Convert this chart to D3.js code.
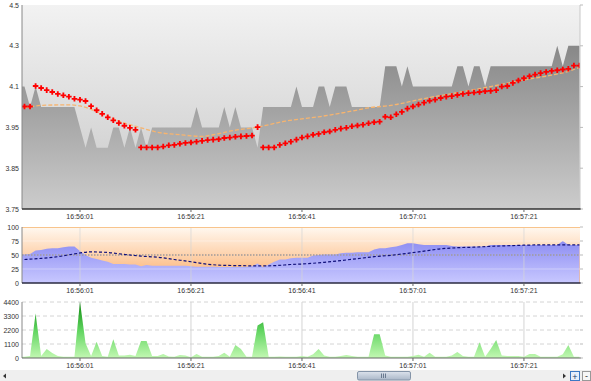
<!DOCTYPE html>
<html>
<head>
<meta charset="utf-8">
<script src="https://cdn.jsdelivr.net/npm/d3@7"></script>
<style>
  html, body { margin: 0; padding: 0; background: #fff; }
  svg { display: block; font-family: "Liberation Sans", Arial, sans-serif; }
</style>
</head>
<body>
<div id="chart"></div>
<script>
// Tick price chart with oscillator and volume panes

// time labels / axis values
const timeTicks = ['16:56:01', '16:56:21', '16:56:41', '16:57:01', '16:57:21'];
const priceTicks = [3.75, 3.85, 3.95, 4.1, 4.3, 4.5];
const oscTicks = [0, 25, 50, 75, 100];
const volTicks = [0, 1100, 2200, 3300, 4400];

// series start times (one point per second)
const areaStart = '16:55:50';   // gray price area, oscillator, volume
const dotStart = '16:55:51';    // red price markers

// gray price area (from 16:55:50)
const priceArea = [4.1,
    4.1, 4.025, 4.1, 4.025, 4.025, 4.025, 4.025, 4.025, 4.025, 4.025,
    3.95, 3.9, 3.95, 3.9, 3.9, 3.9, 3.95, 3.95, 3.9, 3.95,
    3.9, 3.95, 3.9, 3.95, 3.95, 3.95, 3.95, 3.95, 3.95, 3.95,
    3.95, 4.025, 3.95, 3.95, 3.95, 3.95, 4.025, 3.95, 4.025, 3.95,
    3.95, 3.95, 3.9, 4.025, 4.025, 4.025, 4.025, 4.025, 4.025, 4.1,
    4.025, 4.025, 4.025, 4.1, 4.1, 4.025, 4.1, 4.1, 4.1, 4.025,
    4.025, 4.025, 4.025, 4.025, 4.025, 4.2, 4.2, 4.2, 4.1, 4.2,
    4.1, 4.1, 4.1, 4.1, 4.1, 4.1, 4.1, 4.1, 4.2, 4.2,
    4.1, 4.2, 4.2, 4.1, 4.2, 4.2, 4.2, 4.2, 4.2, 4.2,
    4.2, 4.2, 4.2, 4.2, 4.2, 4.2, 4.3, 4.2, 4.3, 4.3,
    4.3];

// red markers (from 16:55:51)
const priceDots = [
    4.027, 4.027, 4.103, 4.095, 4.087, 4.080, 4.073, 4.068, 4.063, 4.055,
    4.052, 4.047, 4.028, 4.013, 4.000, 3.987, 3.976, 3.966, 3.956, 3.949,
    3.944, 3.901, 3.901, 3.901, 3.901, 3.903, 3.906, 3.907, 3.910, 3.912,
    3.913, 3.915, 3.917, 3.919, 3.920, 3.921, 3.924, 3.925, 3.927, 3.928,
    3.929, 3.930, 3.951, 3.901, 3.901, 3.901, 3.907, 3.911, 3.915, 3.920,
    3.925, 3.928, 3.932, 3.934, 3.938, 3.940, 3.944, 3.947, 3.949, 3.954,
    3.957, 3.960, 3.965, 3.969, 3.971, 3.989, 3.987, 3.998, 4.007, 4.019,
    4.027, 4.034, 4.041, 4.048, 4.052, 4.058, 4.063, 4.065, 4.069, 4.073,
    4.076, 4.078, 4.080, 4.083, 4.084, 4.087, 4.100, 4.103, 4.118, 4.130,
    4.141, 4.151, 4.159, 4.166, 4.172, 4.177, 4.180, 4.184, 4.187, 4.203,
    4.203];

// orange average line (seconds after 16:55:51)
const avgSecs = [0, 3, 8, 10, 14, 17, 21, 24, 28, 32, 34, 38, 42, 47, 53, 59, 62, 66, 72, 78, 84, 90, 95, 98, 100];
const avgValues = [4.021, 4.031, 4.033, 4.029, 3.999, 3.973, 3.949, 3.938, 3.932, 3.928, 3.932, 3.943, 3.951,
    3.973, 3.989, 4.010, 4.022, 4.031, 4.056, 4.078, 4.100, 4.133, 4.156, 4.175, 4.194];

// oscillator area (from 16:55:50)
const oscArea = [51,
    51, 52, 58, 59, 61, 62, 62, 64, 65, 65,
    57, 50, 45, 43, 40, 38, 34, 34, 34, 33,
    33, 30, 32, 31, 31, 31, 31, 31, 31, 31,
    30, 29, 29, 29, 29, 28.6, 28.6, 28.6, 28.6, 28.6,
    29, 30, 35, 28, 33, 38, 42, 42, 44, 45,
    45, 45, 49, 50, 51, 51, 51, 53, 54, 54,
    55, 55, 55, 60, 62, 62, 64, 65, 68, 71,
    71, 69, 68, 68, 68, 68, 68, 66, 65, 65,
    65, 65, 65, 65, 68, 68, 68, 68, 68, 68,
    68, 68, 68, 68, 68, 68, 68, 75, 68, 68,
    68];

// oscillator average (seconds after 16:55:51)
const oscAvgSecs = [0, 3, 6, 9, 12, 15, 18, 21, 24, 27, 30, 33, 36, 39, 42, 45, 48, 51, 54, 57,
    60, 63, 66, 69, 72, 75, 78, 81, 84, 87, 90, 93, 96, 100];
const oscAvgValues = [42, 44, 47, 52, 55.5, 54.5, 51, 48, 46, 42, 38, 33.5, 31.5, 31, 30.5, 31, 33, 34.5, 37, 40,
    43.5, 47, 49.5, 53, 57, 61, 63, 64, 65.5, 66.5, 67.5, 68, 68, 68];
const oscLevel = 50;

// volume (from 16:55:50)
const volume = [100,
    100, 150, 3500, 150, 700, 400, 150, 100, 100, 100,
    4420, 1150, 150, 1280, 150, 100, 1470, 200, 200, 250,
    150, 1340, 1340, 150, 150, 310, 120, 100, 240, 200,
    50, 310, 100, 100, 100, 150, 420, 100, 1020, 700,
    100, 100, 2550, 2800, 100, 100, 120, 100, 100, 100,
    150, 100, 300, 700, 200, 100, 100, 150, 240, 150,
    100, 100, 100, 1860, 1860, 200, 100, 100, 100, 100,
    150, 250, 100, 420, 100, 100, 100, 200, 470, 150,
    100, 100, 1230, 100, 700, 1410, 200, 150, 150, 150,
    100, 310, 310, 100, 100, 100, 100, 300, 1020, 100,
    100];

const W = 591, H = 381;
const left = 22, right = 580;
const main = { top: 5, bottom: 209 };
const osc = { top: 227, bottom: 283 };
const vol = { top: 302, bottom: 358 };

const parseTime = d3.timeParse('%H:%M:%S');
const formatTime = d3.timeFormat('%H:%M:%S');
const at = (start, s) => new Date(parseTime(start).getTime() + s * 1000);

const svg = d3.select('#chart').append('svg')
    .attr('width', W)
    .attr('height', H);

// shared time scale
const x = d3.scaleTime()
    .domain([at(areaStart, 0.55), at(areaStart, 101.1)])
    .range([left, right]);
const tickDates = timeTicks.map(parseTime);

const yPrice = d3.scaleLinear()
    .domain(priceTicks)
    .range(priceTicks.map((d, i) => main.bottom - i * (main.bottom - main.top) / (priceTicks.length - 1)));
const yOsc = d3.scaleLinear().domain([0, 100]).range([osc.bottom, osc.top]);
const yVol = d3.scaleLinear().domain([0, 4400]).range([vol.bottom, vol.top]);

// gradients
const defs = svg.append('defs');
function vGrad(id, y1, y2, stops) {
    const g = defs.append('linearGradient').attr('id', id)
        .attr('gradientUnits', 'userSpaceOnUse')
        .attr('x1', 0).attr('x2', 0).attr('y1', y1).attr('y2', y2);
    stops.forEach(s => g.append('stop').attr('offset', s[0]).attr('stop-color', s[1]));
}
vGrad('mainBg', main.top, main.bottom, [[0, '#f2f2f2'], [1, '#c8c8c8']]);
vGrad('priceFill', main.top, main.bottom, [[0, '#777777'], [1, '#cccccc']]);
vGrad('oscBg', osc.top, osc.bottom, [[0, '#fff8f0'], [1, '#fcac68']]);
vGrad('oscFill', osc.top, osc.bottom, [[0, '#7a7aee'], [1, '#c8c8ff']]);
vGrad('volFill', vol.top, vol.bottom, [[0, '#0e880e'], [0.5, '#5fd45f'], [1, '#c2f8b2']]);
vGrad('thumb', 371, 380, [[0, '#dfe5ee'], [1, '#aab7c8']]);

function clip(id, p) {
    defs.append('clipPath').attr('id', id)
        .append('rect').attr('x', left).attr('y', p.top)
        .attr('width', right - left).attr('height', p.bottom - p.top);
}
clip('clipMain', main);
clip('clipOsc', osc);
clip('clipVol', vol);

const txt = (g, xx, yy, s, anchor) => g.append('text')
    .attr('x', xx).attr('y', yy)
    .attr('text-anchor', anchor)
    .style('font-size', '7px')
    .style('fill', '#333')
    .text(s);

function timeAxis(p) {
    const g = svg.append('g');
    tickDates.forEach(d => {
        g.append('line').attr('x1', x(d)).attr('x2', x(d))
            .attr('y1', p.bottom).attr('y2', p.bottom + 3)
            .style('stroke', '#666');
        txt(g, x(d), p.bottom + 9.5, formatTime(d), 'middle');
    });
}

function yLabels(scale, ticks, fmt) {
    const g = svg.append('g');
    ticks.forEach(t => {
        txt(g, 19, scale(t) + 2.5, fmt(t), 'end');
        g.append('line').attr('x1', right).attr('x2', right + 3)
            .attr('y1', scale(t)).attr('y2', scale(t))
            .style('stroke', '#bbb');
    });
}

// ---------- price pane ----------
svg.append('rect')
    .attr('x', left).attr('y', main.top)
    .attr('width', right - left).attr('height', main.bottom - main.top)
    .style('fill', 'url(#mainBg)');

const mainG = svg.append('g').attr('clip-path', 'url(#clipMain)');

mainG.append('path')
    .datum(priceArea.map((v, i) => ({ t: at(areaStart, i), v })))
    .attr('d', d3.area().x(d => x(d.t)).y0(main.bottom).y1(d => yPrice(d.v)))
    .style('fill', 'url(#priceFill)');

mainG.append('path')
    .datum(avgSecs.map((s, i) => ({ t: at(dotStart, s), v: avgValues[i] })))
    .attr('d', d3.line().x(d => x(d.t)).y(d => yPrice(d.v)).curve(d3.curveMonotoneX))
    .style('fill', 'none')
    .style('stroke', '#f7b46e')
    .style('stroke-width', 1.3)
    .style('stroke-dasharray', '4,2');

mainG.selectAll('.dot')
    .data(priceDots.map((v, i) => ({ t: at(dotStart, i), v })))
    .enter().append('path')
    .attr('class', 'dot')
    .attr('transform', d => `translate(${x(d.t)},${yPrice(d.v)})`)
    .attr('d', d3.symbol().type(d3.symbolCross).size(17))
    .style('fill', '#ff0000');

svg.append('line').attr('x1', left).attr('x2', left).attr('y1', main.top).attr('y2', main.bottom)
    .style('stroke', '#888');
svg.append('line').attr('x1', right).attr('x2', right).attr('y1', main.top).attr('y2', main.bottom)
    .style('stroke', '#c8c8c8');
svg.append('line').attr('x1', left).attr('x2', right + 1).attr('y1', main.bottom).attr('y2', main.bottom)
    .style('stroke', '#333').style('stroke-width', 1.5);
yLabels(yPrice, priceTicks, d => String(d));
timeAxis(main);

// ---------- oscillator pane ----------
svg.append('rect')
    .attr('x', left).attr('y', osc.top)
    .attr('width', right - left).attr('height', osc.bottom - osc.top)
    .style('fill', 'url(#oscBg)');

const oscG = svg.append('g').attr('clip-path', 'url(#clipOsc)');

oscG.append('path')
    .datum(oscArea.map((v, i) => ({ t: at(areaStart, i), v })))
    .attr('d', d3.area().x(d => x(d.t)).y0(osc.bottom).y1(d => yOsc(d.v)))
    .style('fill', 'url(#oscFill)');

[25, 75].forEach(v => {
    oscG.append('line').attr('x1', left).attr('x2', right)
        .attr('y1', yOsc(v)).attr('y2', yOsc(v))
        .style('stroke', '#ffffff').style('stroke-opacity', 0.35);
});
tickDates.forEach(d => {
    oscG.append('line').attr('x1', x(d)).attr('x2', x(d))
        .attr('y1', osc.top).attr('y2', osc.bottom)
        .style('stroke', '#d6d6d6').style('stroke-opacity', 0.7);
});

oscG.append('line').attr('x1', left).attr('x2', right)
    .attr('y1', yOsc(oscLevel)).attr('y2', yOsc(oscLevel))
    .style('stroke', '#a09a9a').style('stroke-width', 1.5)
    .style('stroke-dasharray', '1.5,1.5');

oscG.append('path')
    .datum(oscAvgSecs.map((s, i) => ({ t: at(dotStart, s), v: oscAvgValues[i] })))
    .attr('d', d3.line().x(d => x(d.t)).y(d => yOsc(d.v)).curve(d3.curveMonotoneX))
    .style('fill', 'none')
    .style('stroke', '#10107a')
    .style('stroke-width', 1.2)
    .style('stroke-dasharray', '3,2');

svg.append('line').attr('x1', left).attr('x2', right).attr('y1', osc.top + 0.5).attr('y2', osc.top + 0.5)
    .style('stroke', '#f8c48c');
svg.append('line').attr('x1', left).attr('x2', left).attr('y1', osc.top).attr('y2', osc.bottom)
    .style('stroke', '#888');
svg.append('line').attr('x1', left).attr('x2', right + 1).attr('y1', osc.bottom).attr('y2', osc.bottom)
    .style('stroke', '#2a2a40').style('stroke-width', 1.5);
yLabels(yOsc, oscTicks, d => String(d));
timeAxis(osc);

// ---------- volume pane ----------
const volG = svg.append('g');

volTicks.slice(1).forEach(v => {
    volG.append('line').attr('x1', left).attr('x2', right)
        .attr('y1', yVol(v)).attr('y2', yVol(v))
        .style('stroke', '#d4d4d4').style('stroke-dasharray', '4,3');
});
tickDates.forEach(d => {
    volG.append('line').attr('x1', x(d)).attr('x2', x(d))
        .attr('y1', vol.top).attr('y2', vol.bottom)
        .style('stroke', '#d4d4d4');
});

svg.append('g').attr('clip-path', 'url(#clipVol)')
    .append('path')
    .datum(volume.map((v, i) => ({ t: at(areaStart, i), v })))
    .attr('d', d3.area().x(d => x(d.t)).y0(vol.bottom).y1(d => yVol(d.v)))
    .style('fill', 'url(#volFill)');

svg.append('line').attr('x1', left).attr('x2', left).attr('y1', vol.top).attr('y2', vol.bottom)
    .style('stroke', '#888');
svg.append('line').attr('x1', left).attr('x2', right + 1).attr('y1', vol.bottom).attr('y2', vol.bottom)
    .style('stroke', '#666').style('stroke-width', 1.2);
yLabels(yVol, volTicks, d => String(d));
timeAxis(vol);

// ---------- scrollbar ----------
const sb = svg.append('g');
sb.append('rect').attr('x', 0).attr('y', 370).attr('width', W).attr('height', 11)
    .style('fill', '#efefef');
sb.append('path').attr('d', 'M3,376 L6,373.5 L6,378.5 Z').style('fill', '#333');
sb.append('rect').attr('x', 357.5).attr('y', 371.5).attr('width', 53).attr('height', 8.5)
    .attr('rx', 1.5)
    .style('fill', 'url(#thumb)').style('stroke', '#8494a8');
[381, 383, 385].forEach(gx => {
    sb.append('line').attr('x1', gx + 0.5).attr('x2', gx + 0.5).attr('y1', 373.5).attr('y2', 378)
        .style('stroke', '#6a7a90');
});
sb.append('path').attr('d', 'M566,376 L563,373.5 L563,378.5 Z').style('fill', '#333');
sb.append('rect').attr('x', 570.5).attr('y', 371.5).attr('width', 9).attr('height', 9)
    .style('fill', '#e6eefa').style('stroke', '#3c78c4');
sb.append('text').attr('x', 575).attr('y', 379.5).attr('text-anchor', 'middle')
    .style('font-size', '9px').style('fill', '#203a66').text('+');
sb.append('rect').attr('x', 582.5).attr('y', 371.5).attr('width', 8).attr('height', 9)
    .style('fill', '#f6f6f6').style('stroke', '#999');
sb.append('text').attr('x', 586.5).attr('y', 379).attr('text-anchor', 'middle')
    .style('font-size', '9px').style('fill', '#333').text('-');
</script>
</body>
</html>
